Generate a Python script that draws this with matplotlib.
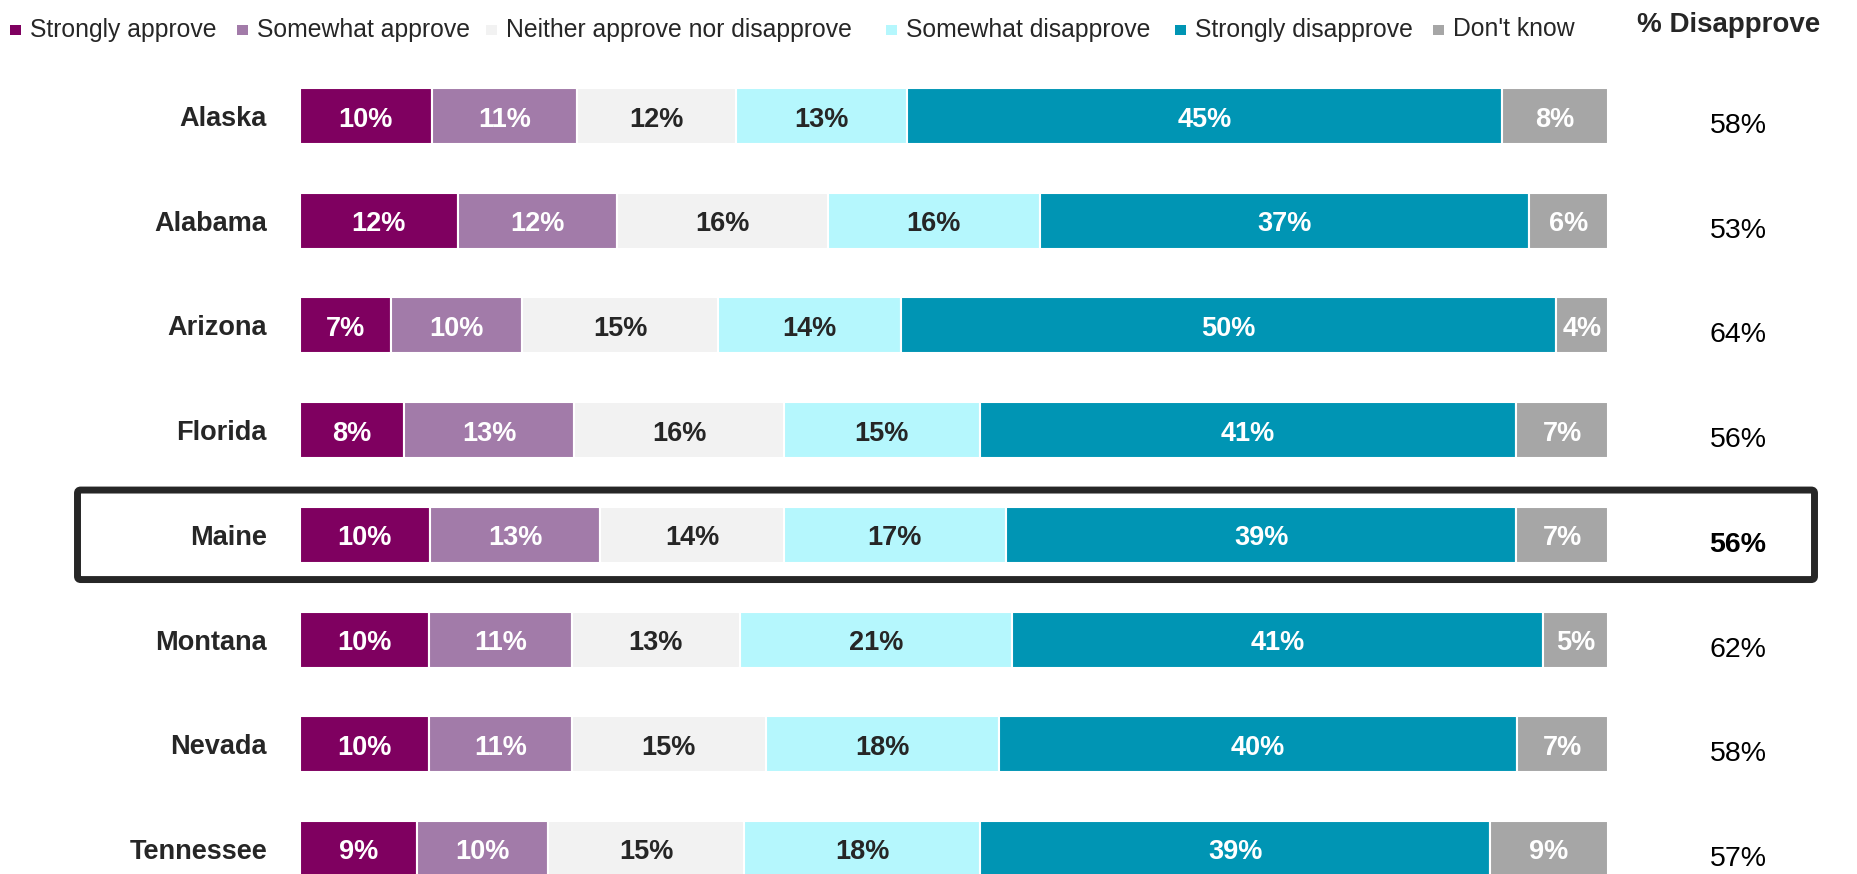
import matplotlib
matplotlib.use("Agg")
import matplotlib.pyplot as plt
from matplotlib.patches import FancyBboxPatch, Rectangle
import numpy as np

# ---------------- data ----------------
states = ["Alaska", "Alabama", "Arizona", "Florida", "Maine", "Montana", "Nevada", "Tennessee"]
strongly_approve = [10, 12, 7, 8, 10, 10, 10, 9]
somewhat_approve = [11, 12, 10, 13, 13, 11, 11, 10]
neither = [12, 16, 15, 16, 14, 13, 15, 15]
somewhat_disapprove = [13, 16, 14, 15, 17, 21, 18, 18]
strongly_disapprove = [45, 37, 50, 41, 39, 41, 40, 39]
dont_know = [8, 6, 4, 7, 7, 5, 7, 9]
pct_disapprove = [58, 53, 64, 56, 56, 62, 58, 57]
series_names = ["Strongly approve", "Somewhat approve", "Neither approve nor disapprove",
                "Somewhat disapprove", "Strongly disapprove", "Don't know"]
header = "% Disapprove"
highlight = "Maine"

colors = ["#7F0060", "#A27BA9", "#F2F2F2", "#B5F7FD", "#0095B4", "#A6A6A6"]
label_colors = ["white", "white", "#262626", "#262626", "white", "white"]

plt.rcParams["font.family"] = ["Liberation Sans", "DejaVu Sans"]

W, H = 1857, 874
fig = plt.figure(figsize=(W / 100, H / 100), dpi=100)
fig.patch.set_facecolor("white")

bar_left_px, bar_right_px = 299.5, 1608
row0_px, row_step_px = 116, 104.7
ax = fig.add_axes([bar_left_px / W, 0, (bar_right_px - bar_left_px) / W, 1])
ax.set_xlim(0, 100)
ax.set_ylim((H - row0_px) / row_step_px, -row0_px / row_step_px)
ax.axis("off")

series = np.array([strongly_approve, somewhat_approve, neither,
                   somewhat_disapprove, strongly_disapprove, dont_know], dtype=float)
totals = series.sum(axis=0)
widths = series / totals * 100
lefts = np.vstack([np.zeros(len(states)), np.cumsum(widths, axis=0)[:-1]])
y = np.arange(len(states))
bar_h = 56 / row_step_px

for k in range(len(series_names)):
    ax.barh(y, widths[k], left=lefts[k], height=bar_h, color=colors[k],
            edgecolor="white", linewidth=1.5, label=series_names[k])
    for i in range(len(states)):
        ax.annotate(f"{int(series[k, i])}%", xy=(lefts[k, i] + widths[k, i] / 2, y[i]),
                    xytext=(0, -10.5), textcoords="offset pixels",
                    ha="center", va="baseline", fontsize=19.5, fontweight="bold",
                    color=label_colors[k])

for i, s in enumerate(states):
    ax.annotate(s, xy=(0, y[i]), xytext=(-32.5, -10), textcoords="offset pixels",
                ha="right", va="baseline", fontsize=19.5, fontweight="bold", color="#262626")
    ax.annotate(f"{pct_disapprove[i]}%", xy=(100, y[i]), xytext=(130, -17),
                textcoords="offset pixels", ha="center", va="baseline", fontsize=20.5,
                fontweight="bold" if s == highlight else "normal", color="black")

# highlight box around Maine row
hi = states.index(highlight)
px = 100 / (bar_right_px - bar_left_px)
x0 = (77.5 - bar_left_px) * px
x1 = (1814.5 - bar_left_px) * px
hh = 44.75 / row_step_px
box = FancyBboxPatch((x0, hi - hh), x1 - x0, 2 * hh,
                     boxstyle="round,pad=0,rounding_size=0.25",
                     fill=False, edgecolor="#262626", linewidth=5.0,
                     clip_on=False, mutation_aspect=1 / 8)
ax.add_patch(box)

# header
fig.text(1729 / W, 1 - 32 / H, header, ha="center", va="baseline",
         fontsize=20, fontweight="bold", color="#262626")

# legend (manual)
text_x = [29.6, 257, 506, 906, 1195, 1453]
for k, name in enumerate(series_names):
    fig.patches.append(Rectangle(((text_x[k] - 20) / W, 1 - 35 / H), 11 / W, 10 / H,
                                 transform=fig.transFigure, facecolor=colors[k],
                                 edgecolor="none"))
    fig.text(text_x[k] / W, 1 - 36.5 / H, name, ha="left", va="baseline",
             fontsize=17.8, color="#262626")

fig.savefig("out.png", dpi=100, facecolor="white")
